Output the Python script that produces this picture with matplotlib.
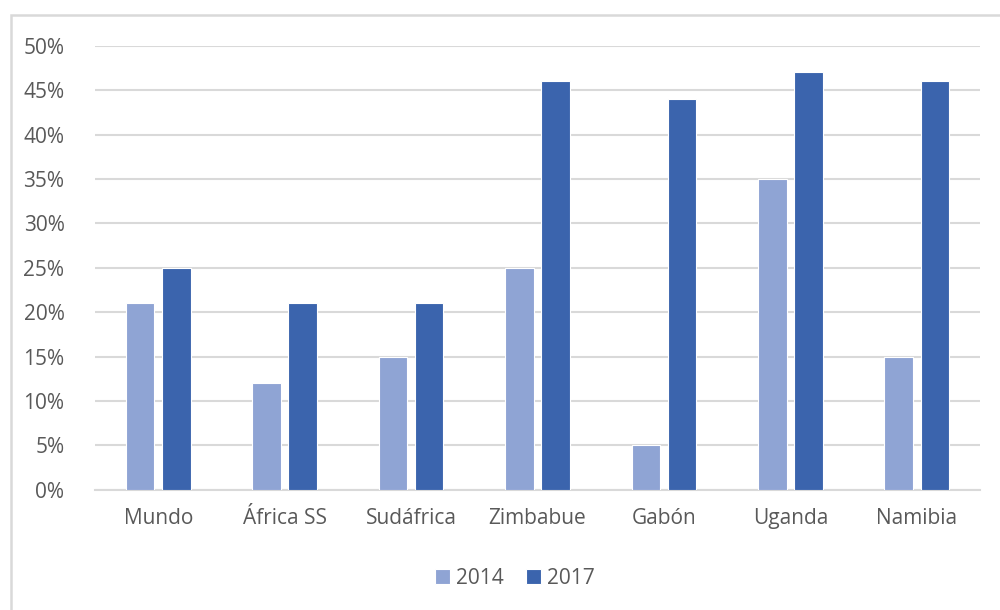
import numpy as np
import matplotlib.pyplot as plt
from matplotlib.patches import Rectangle
from matplotlib.ticker import PercentFormatter

paises = ["Mundo", "África SS", "Sudáfrica", "Zimbabue", "Gabón", "Uganda", "Namibia"]
v2014 = [0.21, 0.12, 0.15, 0.25, 0.05, 0.35, 0.15]
v2017 = [0.25, 0.21, 0.21, 0.46, 0.44, 0.47, 0.46]

c2014 = "#8FA4D4"
c2017 = "#3B64AD"
gris = "#D9D9D9"
texto = "#595959"

plt.rcParams['font.family'] = ['Open Sans', 'DejaVu Sans']

fig = plt.figure(figsize=(10, 6.1), dpi=100)
ax = fig.add_axes([0.095, 0.197, 0.885, 0.728])

x = np.arange(len(paises))
w = 0.225
ax.bar(x - 0.143, v2014, w, color=c2014, edgecolor="white", linewidth=0.8, label="2014", zorder=3)
ax.bar(x + 0.143, v2017, w, color=c2017, edgecolor="white", linewidth=0.8, label="2017", zorder=3)

ax.set_xlim(-0.5, len(paises) - 0.5)
ax.set_ylim(0, 0.5)
ax.set_yticks(np.arange(0, 0.51, 0.05))
ax.yaxis.set_major_formatter(PercentFormatter(1.0, decimals=0))
ax.set_xticks(x)
ax.set_xticklabels(paises)
ax.grid(axis="y", color=gris, linewidth=1.5, zorder=0)
ax.tick_params(length=0, labelsize=15, colors=texto)
ax.tick_params(axis="x", pad=13)
ax.tick_params(axis="y", pad=22)
for s in ["top", "right", "left"]:
    ax.spines[s].set_visible(False)
ax.spines["bottom"].set_color(gris)
ax.spines["bottom"].set_linewidth(1.5)

leg = fig.legend(loc="center", bbox_to_anchor=(0.515, 0.052), ncol=2, frameon=False,
                 fontsize=15, handlelength=0.7, handleheight=0.7, handletextpad=0.3,
                 columnspacing=1.1)
for t in leg.get_texts():
    t.set_color(texto)

fig.patches.append(Rectangle((0.0105, -0.1), 1.5, 1.1 - 15 / 610, transform=fig.transFigure,
                             fill=False, edgecolor=gris, linewidth=1.8))

fig.savefig("out.png", dpi=100)
